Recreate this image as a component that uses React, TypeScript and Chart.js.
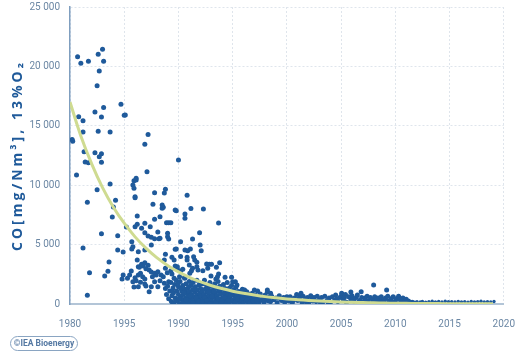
import React, { useEffect, useRef } from "react";
import { Chart, registerables } from "chart.js";
Chart.register(...registerables);

const xTickLabels = ["1980", "1995", "1990", "1995", "2000", "2005", "2010", "2015", "2020"];
const yAxisTitle = "CO[mg/Nm³], 13%O₂";
const logoText = "©IEA Bioenergy";

const pointsEarly: [number, number][] = [
  [1980.2, 13850], [1980.25, 13700], [1980.6, 10860], [1980.7, 20820], [1980.8, 15770], [1981.0, 20260],
  [1981.2, 15430], [1981.2, 14480], [1981.2, 4710], [1981.3, 12820], [1981.4, 11950], [1981.6, 8560],
  [1981.6, 730], [1981.7, 20430], [1981.7, 11900], [1981.8, 2630], [1982.3, 16160], [1982.3, 12740],
  [1982.5, 18380], [1982.5, 9620], [1982.6, 21020], [1982.6, 14540], [1982.7, 19610], [1982.7, 12400],
  [1982.9, 15740], [1982.9, 12650], [1982.9, 11930], [1982.9, 5920], [1983.0, 21440], [1983.1, 20430],
  [1983.1, 16530], [1983.2, 2360], [1983.5, 2750], [1983.6, 3540], [1983.7, 14480], [1983.7, 10100],
  [1983.9, 7320], [1984.0, 8170], [1984.2, 8730], [1984.4, 5750], [1984.4, 4550], [1984.7, 16810],
  [1984.8, 2100], [1984.9, 4380], [1984.9, 2440], [1985.0, 15880], [1985.1, 15900],
];

const pointsMid80s: [number, number][] = [
  [1985.2, 6480], [1985.3, 2160], [1985.5, 2440], [1985.65, 2780], [1985.7, 5250], [1985.7, 4630],
  [1985.8, 4820], [1985.8, 10020], [1985.8, 1880], [1985.9, 9740], [1985.9, 10380], [1985.9, 1430],
  [1986.0, 9030], [1986.0, 8950], [1986.0, 6510], [1986.0, 2220], [1986.1, 10440], [1986.1, 10580],
  [1986.1, 1960], [1986.2, 7400], [1986.2, 6710], [1986.2, 3700], [1986.3, 4400], [1986.3, 3140],
  [1986.3, 2440], [1986.3, 1460], [1986.4, 3090], [1986.5, 2580], [1986.5, 1830], [1986.6, 6370],
  [1986.6, 3340], [1986.7, 2300], [1986.75, 3200], [1986.9, 6790], [1986.9, 13440], [1986.9, 6000],
  [1986.9, 4550], [1986.9, 3480], [1986.9, 2100], [1986.9, 1680], [1987.0, 2970], [1987.0, 1520],
  [1987.1, 11140], [1987.2, 14260], [1987.2, 5720], [1987.2, 3260], [1987.3, 2860], [1987.3, 1040],
  [1987.4, 6510], [1987.5, 5610], [1987.5, 4970], [1987.5, 2690], [1987.5, 1460], [1987.6, 2300],
  [1987.65, 8390], [1987.8, 9370], [1987.8, 7130], [1987.8, 5500], [1987.8, 2580], [1987.8, 1880],
  [1987.95, 2440], [1988.1, 6060], [1988.1, 2720], [1988.1, 1460], [1988.2, 5500], [1988.3, 7350],
  [1988.3, 5530], [1988.3, 1960], [1988.4, 2440], [1988.5, 8330], [1988.5, 8060], [1988.6, 8140],
  [1988.6, 2300], [1988.7, 9340], [1988.7, 3700], [1988.7, 1740], [1988.8, 9650], [1988.8, 3000],
  [1988.8, 4180], [1988.9, 6840], [1988.97, 2640], [1989.0, 5950], [1989.0, 5670], [1989.1, 6840],
  [1989.1, 5470], [1989.1, 1880], [1989.3, 2800], [1989.3, 6840], [1989.4, 2530], [1989.4, 3930],
  [1989.6, 3700], [1989.6, 2160], [1989.7, 4610], [1989.7, 7910], [1989.7, 3200], [1989.8, 7850],
  [1989.8, 4630], [1989.9, 2920], [1989.9, 3140], [1990.0, 12120],
];

const pointsUpper90s: [number, number][] = [
  [1990.1, 2300], [1990.2, 2780], [1990.2, 5250], [1990.2, 3990], [1990.4, 2920], [1990.6, 4550],
  [1990.6, 7580], [1990.6, 7210], [1990.6, 2160], [1990.8, 3700], [1990.8, 9150], [1990.8, 3930],
  [1990.85, 4490], [1991.0, 3280], [1991.05, 2580], [1991.1, 4630], [1991.15, 8030], [1991.2, 2800],
  [1991.3, 5470], [1991.3, 3000], [1991.4, 3980], [1991.5, 3700], [1991.7, 3510], [1991.7, 3140],
  [1991.8, 2860], [1991.95, 6000], [1992.0, 4970], [1992.1, 4490], [1992.25, 2800], [1992.3, 8000],
  [1992.6, 3370], [1992.7, 3000], [1992.85, 3340], [1993.0, 2360], [1993.05, 3340], [1993.45, 2100],
  [1993.5, 3090], [1993.6, 2300], [1993.7, 6820], [1993.7, 2530], [1993.8, 3480], [1994.3, 2250],
  [1994.9, 2250], [1995.0, 1880], [1995.25, 1880], [1995.4, 1600], [1995.9, 1240], [1996.1, 1180],
  [1996.3, 1040], [1997.0, 1180], [1997.3, 1090], [1998.2, 1180], [1998.2, 1040], [1998.5, 900],
  [1999.3, 480], [2000.0, 620], [2000.3, 620],
];

const pointsBlob: [number, number][] = [
  [1988.8, 1300], [1988.9, 800], [1989.0, 1500], [1989.1, 450], [1989.2, 1100], [1989.3, 1800],
  [1989.35, 200], [1989.4, 700], [1989.5, 1350], [1989.55, 950], [1989.6, 100], [1989.65, 1650],
  [1989.7, 500], [1989.8, 2000], [1989.85, 1100], [1989.9, 300], [1990.0, 800], [1990.0, 1450],
  [1990.1, 50], [1990.15, 1900], [1990.2, 600], [1990.3, 1100], [1990.35, 350], [1990.4, 1550],
  [1990.45, 800], [1990.5, 150], [1990.55, 2200], [1990.6, 1250], [1990.65, 500], [1990.7, 1700],
  [1990.75, 900], [1990.8, 200], [1990.85, 1300], [1990.9, 650], [1991.0, 1900], [1991.0, 1000],
  [1991.05, 50], [1991.1, 450], [1991.15, 1550], [1991.2, 800], [1991.25, 250], [1991.3, 1200],
  [1991.35, 1800], [1991.4, 600], [1991.5, 100], [1991.5, 1000], [1991.55, 1450], [1991.6, 400],
  [1991.7, 750], [1991.7, 2000], [1991.75, 1200], [1991.8, 150], [1991.85, 550], [1991.9, 1600],
  [1991.95, 900], [1992.0, 300], [1992.05, 1300], [1992.1, 650], [1992.15, 50], [1992.2, 1050],
  [1992.25, 1700], [1992.3, 400], [1992.35, 800], [1992.4, 2000], [1992.45, 1250], [1992.5, 150],
  [1992.55, 600], [1992.6, 1550], [1992.65, 1000], [1992.7, 300], [1992.75, 1350], [1992.8, 750],
  [1992.85, 100], [1992.9, 1800], [1992.95, 500], [1993.0, 1100], [1993.05, 250], [1993.1, 1500],
  [1993.15, 800], [1993.2, 50], [1993.25, 1250], [1993.3, 550], [1993.35, 1700], [1993.4, 950],
  [1993.45, 300], [1993.5, 1350], [1993.55, 700], [1993.6, 100], [1993.65, 1900], [1993.7, 1050],
  [1993.75, 450], [1993.8, 1500], [1993.85, 200], [1993.9, 850], [1994.0, 1250], [1994.05, 500],
  [1994.1, 50], [1994.15, 1650], [1994.2, 900], [1994.25, 300], [1994.3, 1300], [1994.35, 650],
  [1994.4, 150], [1994.45, 1000], [1994.5, 1800], [1994.55, 450], [1994.6, 800], [1994.7, 100],
  [1994.7, 1350], [1994.75, 600], [1994.8, 1000], [1994.85, 250], [1994.9, 1550], [1995.0, 750],
  [1995.05, 350], [1995.1, 1200], [1995.15, 50], [1995.2, 900], [1995.25, 500], [1995.3, 1400],
  [1995.35, 200], [1995.4, 700], [1995.5, 1050], [1995.55, 350], [1995.6, 800], [1995.7, 100],
  [1995.75, 550], [1995.8, 1100], [1995.85, 300], [1995.95, 750], [1996.0, 150], [1996.05, 500],
  [1996.15, 950], [1996.2, 250], [1996.3, 650], [1996.4, 100], [1996.45, 850], [1996.55, 400],
  [1996.65, 650], [1996.7, 150], [1996.8, 900], [1996.85, 350], [1996.95, 600], [1997.05, 100],
  [1997.1, 750], [1997.2, 400], [1997.35, 600], [1997.45, 150], [1997.55, 850], [1997.65, 350],
  [1997.8, 550], [1997.9, 150], [1998.0, 750], [1998.1, 400], [1998.3, 250], [1998.4, 600],
];

const pointsBlobFill: [number, number][] = [
  [1989.45, 1050], [1989.75, 250], [1989.95, 1700], [1990.05, 450], [1990.25, 1300], [1990.4, 100],
  [1990.5, 950], [1990.7, 350], [1990.95, 1450], [1991.1, 700], [1991.3, 100], [1991.45, 1250],
  [1991.65, 500], [1991.9, 250], [1992.0, 1700], [1992.2, 200], [1992.4, 550], [1992.6, 300],
  [1992.75, 1000], [1992.95, 50], [1993.1, 650], [1993.3, 1050], [1993.45, 150], [1993.65, 450],
  [1993.85, 1150], [1994.0, 250], [1994.2, 550], [1994.4, 1200], [1994.6, 300], [1994.85, 750],
  [1995.05, 1000], [1995.25, 150], [1995.45, 450], [1995.65, 950], [1995.9, 500], [1996.1, 700],
  [1996.35, 350], [1996.6, 150], [1996.9, 250], [1997.25, 250],
];

const points2000s: [number, number][] = [
  [1998.5, 200], [1998.6, 650], [1998.8, 350], [1999.0, 500], [1999.1, 100], [1999.3, 700],
  [1999.5, 300], [1999.7, 550], [1999.8, 150], [2000.2, 250], [2000.4, 450], [2000.5, 100],
  [2000.7, 500], [2000.9, 800], [2001.0, 300], [2001.2, 600], [2001.3, 900], [2001.4, 150],
  [2001.5, 650], [2001.7, 350], [2001.9, 550], [2002.0, 100], [2002.2, 700], [2002.3, 400],
  [2002.5, 550], [2002.7, 200], [2002.8, 650], [2003.0, 350], [2003.2, 550], [2003.3, 150],
  [2003.5, 650], [2003.7, 300], [2003.9, 500], [2004.0, 100], [2004.2, 600], [2004.4, 300],
  [2004.5, 750], [2004.7, 200], [2004.9, 550], [2005.0, 650], [2005.05, 900], [2005.2, 350],
  [2005.4, 800], [2005.5, 150], [2005.7, 600], [2005.9, 1010], [2005.9, 350], [2006.0, 700],
  [2006.2, 250], [2006.4, 550], [2006.5, 750], [2006.7, 300], [2006.85, 1040], [2006.9, 550],
  [2007.0, 150], [2007.2, 500], [2007.4, 650], [2007.5, 250], [2007.7, 550], [2007.9, 350],
  [2008.0, 1600], [2008.1, 600], [2008.2, 150], [2008.4, 500], [2008.6, 300], [2008.7, 600],
  [2008.9, 200], [2009.1, 500], [2009.2, 1180], [2009.3, 650], [2009.4, 250], [2009.6, 450],
  [2009.8, 600], [2010.0, 200], [2010.1, 450], [2010.3, 650], [2010.5, 300], [2010.7, 500],
  [2010.9, 200], [2011.0, 400], [2011.2, 250], [2011.4, 150],
  [1999.9, 450], [2000.6, 300], [2001.1, 450], [2001.8, 150], [2002.4, 250], [2003.1, 100],
  [2003.8, 150], [2004.6, 450], [2005.3, 550], [2006.1, 400], [2006.6, 100], [2007.3, 300],
  [2008.3, 350], [2009.0, 350], [2009.7, 200], [2010.4, 400],
];

const points2010s: [number, number][] = [
  [2011.6, 220], [2011.8, 150], [2012.0, 200], [2012.3, 180], [2012.5, 220], [2012.8, 160],
  [2013.0, 30], [2013.1, 200], [2013.4, 240], [2013.7, 180], [2014.0, 210], [2014.3, 170],
  [2014.6, 230], [2014.9, 190], [2015.2, 200], [2015.5, 170], [2015.8, 220], [2016.1, 180],
  [2016.4, 200], [2016.7, 160], [2017.0, 210], [2017.3, 180], [2017.6, 200], [2017.9, 230],
  [2018.2, 180], [2018.5, 200], [2018.8, 170], [2019.1, 210],
];

const trendYears = [
  1980, 1981, 1982, 1983, 1984, 1985, 1986, 1987, 1988, 1989, 1990, 1991, 1992, 1993, 1994,
  1995, 1996, 1997, 1998, 1999, 2000, 2001, 2002, 2003, 2004, 2005, 2006, 2007, 2008, 2009,
  2010, 2011, 2012, 2013, 2014, 2015, 2016, 2017, 2018, 2019,
];
const trendValues = [
  17000, 14150, 11800, 9800, 8150, 6800, 5650, 4700, 3900, 3250, 2700, 2250, 1880, 1560, 1300,
  1080, 900, 750, 620, 520, 430, 360, 300, 250, 205, 170, 140, 120, 100, 80,
  68, 56, 47, 39, 32, 27, 22, 18, 15, 12,
];

const toXY = (arr: [number, number][]) => arr.map(([x, y]) => ({ x, y }));

export default function App() {
  const ref = useRef<HTMLCanvasElement>(null);
  useEffect(() => {
    if (!ref.current) return;
    const mainPts = toXY([
      ...pointsEarly, ...pointsMid80s, ...pointsUpper90s, ...pointsBlob, ...pointsBlobFill, ...points2000s,
    ]);
    const latePts = toXY(points2010s);
    const trend = trendYears.map((x, i) => ({ x, y: trendValues[i] }));

    const yTitlePlugin = {
      id: "yTitlePlugin",
      afterDraw(chart: any) {
        const { ctx, chartArea } = chart;
        ctx.save();
        ctx.translate(18, (chartArea.top + chartArea.bottom) / 2);
        ctx.rotate(-Math.PI / 2);
        ctx.font = 'bold 14px "Open Sans", "DejaVu Sans", sans-serif';
        (ctx as any).letterSpacing = "3px";
        ctx.fillStyle = "#1f5a9a";
        ctx.textAlign = "center";
        ctx.textBaseline = "middle";
        ctx.fillText(yAxisTitle, 0, 0);
        ctx.restore();
      },
    };

    const gridColor = "#dfe5ec";
    const tickFont = { family: "Roboto, sans-serif", size: 10 };
    const chart = new Chart(ref.current, {
      type: "scatter",
      data: {
        datasets: [
          {
            type: "line",
            data: trend,
            borderColor: "#cfdb91",
            borderWidth: 3,
            pointRadius: 0,
            tension: 0.4,
            fill: false,
            order: 0,
          } as any,
          {
            data: mainPts,
            backgroundColor: "#1f5a9b",
            borderWidth: 0,
            pointRadius: 2.5,
            order: 1,
          },
          {
            data: latePts,
            backgroundColor: "#1f5a9b",
            borderWidth: 0,
            pointRadius: 1.7,
            order: 1,
          },
        ],
      },
      options: {
        animation: false,
        responsive: true,
        maintainAspectRatio: false,
        layout: { padding: { left: 0, right: 13, top: 7, bottom: 0 } },
        plugins: { legend: { display: false }, tooltip: { enabled: false } },
        scales: {
          x: {
            type: "linear",
            min: 1980,
            max: 2020,
            ticks: {
              stepSize: 5,
              padding: 14,
              color: "#6b87a4",
              font: tickFont,
              callback: (v: any) => {
                const i = Math.round((Number(v) - 1980) / 5);
                return xTickLabels[i] ?? "";
              },
            },
            grid: { color: gridColor, drawTicks: false },
            border: { color: "#b3c5d7", width: 2, dash: [2, 2] },
            afterFit: (s: any) => { s.height = 50; },
          },
          y: {
            min: 0,
            max: 25000,
            ticks: {
              stepSize: 5000,
              padding: 10,
              color: "#6b87a4",
              font: tickFont,
              callback: (v: any) => String(v).replace(/\B(?=(\d{3})+(?!\d))/g, " "),
            },
            grid: { color: gridColor, drawTicks: false },
            border: { color: "#7f9ebf", width: 1.5, dash: [2, 2] },
            afterFit: (s: any) => {
              s.width = 70;
              s.paddingTop = 0;
              s.paddingBottom = 0;
            },
          },
        },
      },
      plugins: [yTitlePlugin],
    } as any);
    return () => chart.destroy();
  }, []);

  return (
    <div style={{ position: "fixed", left: 0, top: 0, width: 529, height: 354, background: "#fff" }}>
      <canvas ref={ref} />
      <div
        style={{
          position: "absolute",
          left: 10,
          top: 336,
          width: 66,
          height: 13,
          border: "1px solid #8aa5c2",
          borderRadius: 8,
          fontFamily: "Roboto, sans-serif",
          fontWeight: "bold",
          fontSize: 8.5,
          lineHeight: "13px",
          color: "#5579a3",
          textAlign: "center",
          whiteSpace: "nowrap",
        }}
      >
        {logoText}
      </div>
    </div>
  );
}
